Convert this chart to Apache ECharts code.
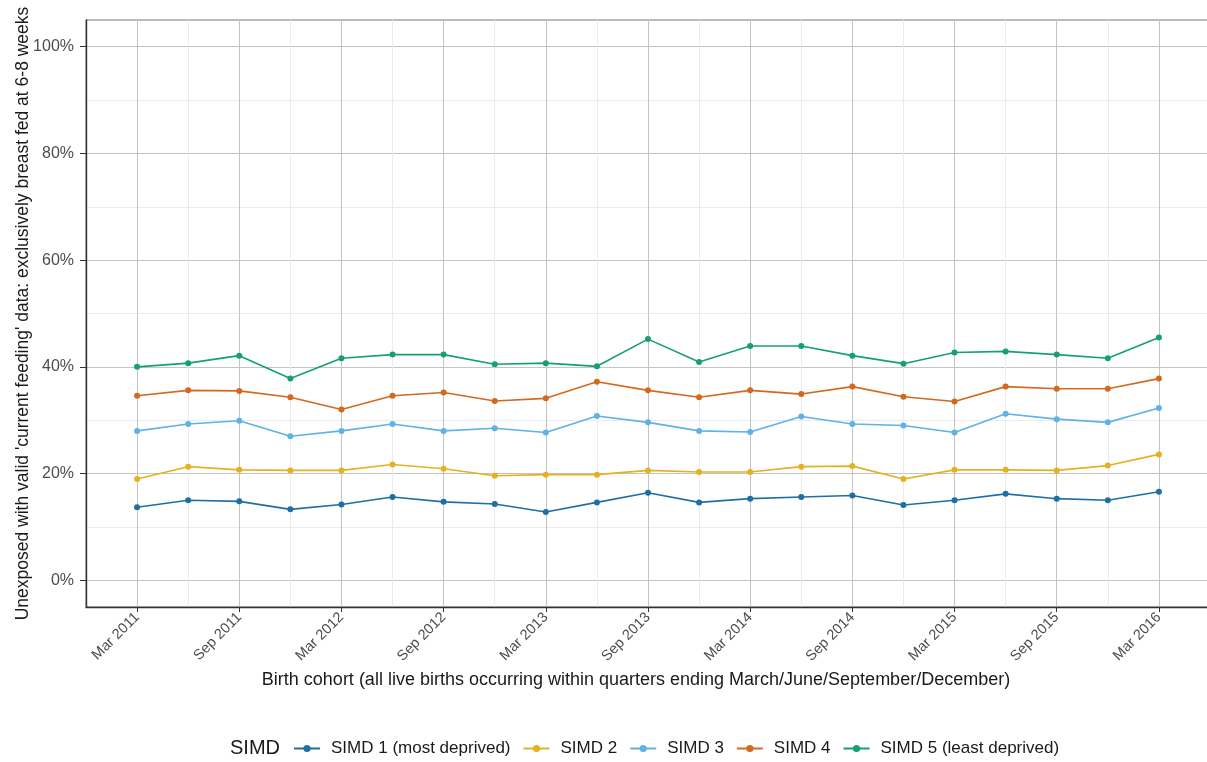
<!DOCTYPE html>
<html>
<head>
<meta charset="utf-8">
<script src="https://cdn.jsdelivr.net/npm/echarts@6/dist/echarts.min.js"></script>
<style>html,body{margin:0;padding:0;background:#fff;overflow:hidden}#c{width:1216px;height:762px}</style>
</head>
<body>
<div id="c"></div>
<script>
const quarters = ["Mar 2011","Jun 2011","Sep 2011","Dec 2011","Mar 2012","Jun 2012","Sep 2012","Dec 2012","Mar 2013","Jun 2013","Sep 2013","Dec 2013","Mar 2014","Jun 2014","Sep 2014","Dec 2014","Mar 2015","Jun 2015","Sep 2015","Dec 2015","Mar 2016"];
const seriesNames = ["SIMD 1 (most deprived)","SIMD 2","SIMD 3","SIMD 4","SIMD 5 (least deprived)"];
const simd1 = [13.7,15.0,14.8,13.3,14.2,15.6,14.7,14.3,12.8,14.6,16.4,14.6,15.3,15.6,15.9,14.1,15.0,16.2,15.3,15.0,16.6];
const simd2 = [19.0,21.3,20.7,20.6,20.6,21.7,20.9,19.6,19.8,19.8,20.6,20.3,20.3,21.3,21.4,19.0,20.7,20.7,20.6,21.5,23.6];
const simd3 = [28.0,29.3,29.9,27.0,28.0,29.3,28.0,28.5,27.7,30.8,29.6,28.0,27.8,30.7,29.3,29.0,27.7,31.2,30.2,29.6,32.3];
const simd4 = [34.6,35.6,35.5,34.3,32.0,34.6,35.2,33.6,34.1,37.2,35.6,34.3,35.6,34.9,36.3,34.4,33.5,36.3,35.9,35.9,37.8];
const simd5 = [40.0,40.7,42.1,37.8,41.6,42.3,42.3,40.5,40.7,40.1,45.2,40.9,43.9,43.9,42.1,40.6,42.7,42.9,42.3,41.6,45.5];
const yMajorTicks = [0,20,40,60,80,100];
const yMinorTicks = [10,30,50,70,90];
const colors = ["#1f6fa5","#e6b020","#5fb2e6","#d2691e","#14a074"];

const allData = [simd1,simd2,simd3,simd4,simd5];
const xMajor = quarters.map((q,i)=>i).filter(i=>i%2===0);
const xMinor = quarters.map((q,i)=>i).filter(i=>i%2===1);

const chart = echarts.init(document.getElementById('c'), null, {renderer:'canvas'});
const font = "Liberation Sans, Arial, sans-serif";
const option = {
  animation:false,
  backgroundColor:'#fff',
  color: colors,
  title: {text:'SIMD', left:225, top:733, textStyle:{fontFamily:font, fontSize:20, fontWeight:'normal', color:'#1a1a1a'}},
  legend: {
    left: 288, top: 735, itemWidth: 26, itemHeight: 9, itemGap: 12,
    textStyle:{fontFamily:font, fontSize:17, color:'#1a1a1a', padding:[0,0,0,6]},
    data: seriesNames
  },
  grid: {left:86, right:6, top:20, bottom:155, show:true, borderColor:'#777', borderWidth:1, containLabel:false, outerBoundsMode:'none'},
  xAxis: [{
    type:'value', min:-1, max:21,
    name:'Birth cohort (all live births occurring within quarters ending March/June/September/December)',
    nameLocation:'middle', nameGap:58,
    nameTextStyle:{fontFamily:font, fontSize:18, color:'#1a1a1a', verticalAlign:'top', padding:[0,24,0,0]},
    axisLine:{show:true, onZero:false, lineStyle:{color:'#333', width:1.4}},
    axisTick:{show:true, length:5, customValues:xMajor, lineStyle:{color:'#333'}},
    axisLabel:{customValues:xMajor, rotate:45, fontFamily:font, fontSize:14.5, color:'#4d4d4d', margin:8,
      formatter:(v)=>quarters[Math.round(v)] || ''},
    splitLine:{show:true, lineStyle:{color:'#c4c4c4', width:1}}
  },{
    type:'value', min:-1, max:21, position:'bottom',
    axisLine:{show:false}, axisLabel:{show:false},
    axisTick:{show:false, customValues:xMinor},
    splitLine:{show:true, lineStyle:{color:'#ebebeb', width:1}}
  }],
  yAxis: [{
    type:'value', min:-5, max:105,
    name:"Unexposed with valid 'current feeding' data: exclusively breast fed at 6-8 weeks",
    nameLocation:'middle', nameGap:54, nameRotate:90, nameMoveOverlap:false,
    nameTextStyle:{fontFamily:font, fontSize:17.5, color:'#1a1a1a'},
    axisLine:{show:true, onZero:false, lineStyle:{color:'#333', width:1.4}},
    axisTick:{show:true, length:6, customValues:yMajorTicks, lineStyle:{color:'#333'}},
    axisLabel:{customValues:yMajorTicks, fontFamily:font, fontSize:16, color:'#4d4d4d', margin:12, formatter:(v)=>v+'%'},
    splitLine:{show:true, lineStyle:{color:'#c4c4c4', width:1}}
  },{
    type:'value', min:-5, max:105,
    axisLine:{show:false, onZero:false}, axisLabel:{show:false},
    axisTick:{show:false, customValues:yMinorTicks},
    splitLine:{show:true, lineStyle:{color:'#ebebeb', width:1}}
  }],
  series: seriesNames.map((n,k)=>({
    name:n, type:'line', xAxisIndex:0, yAxisIndex:0,
    data: allData[k].map((v,i)=>[i,v]),
    symbol:'circle', symbolSize:6, showSymbol:true,
    lineStyle:{width:1.6, color:colors[k]},
    itemStyle:{color:colors[k]},
    z: 3
  }))
};
chart.setOption(option);
</script>
</body>
</html>
